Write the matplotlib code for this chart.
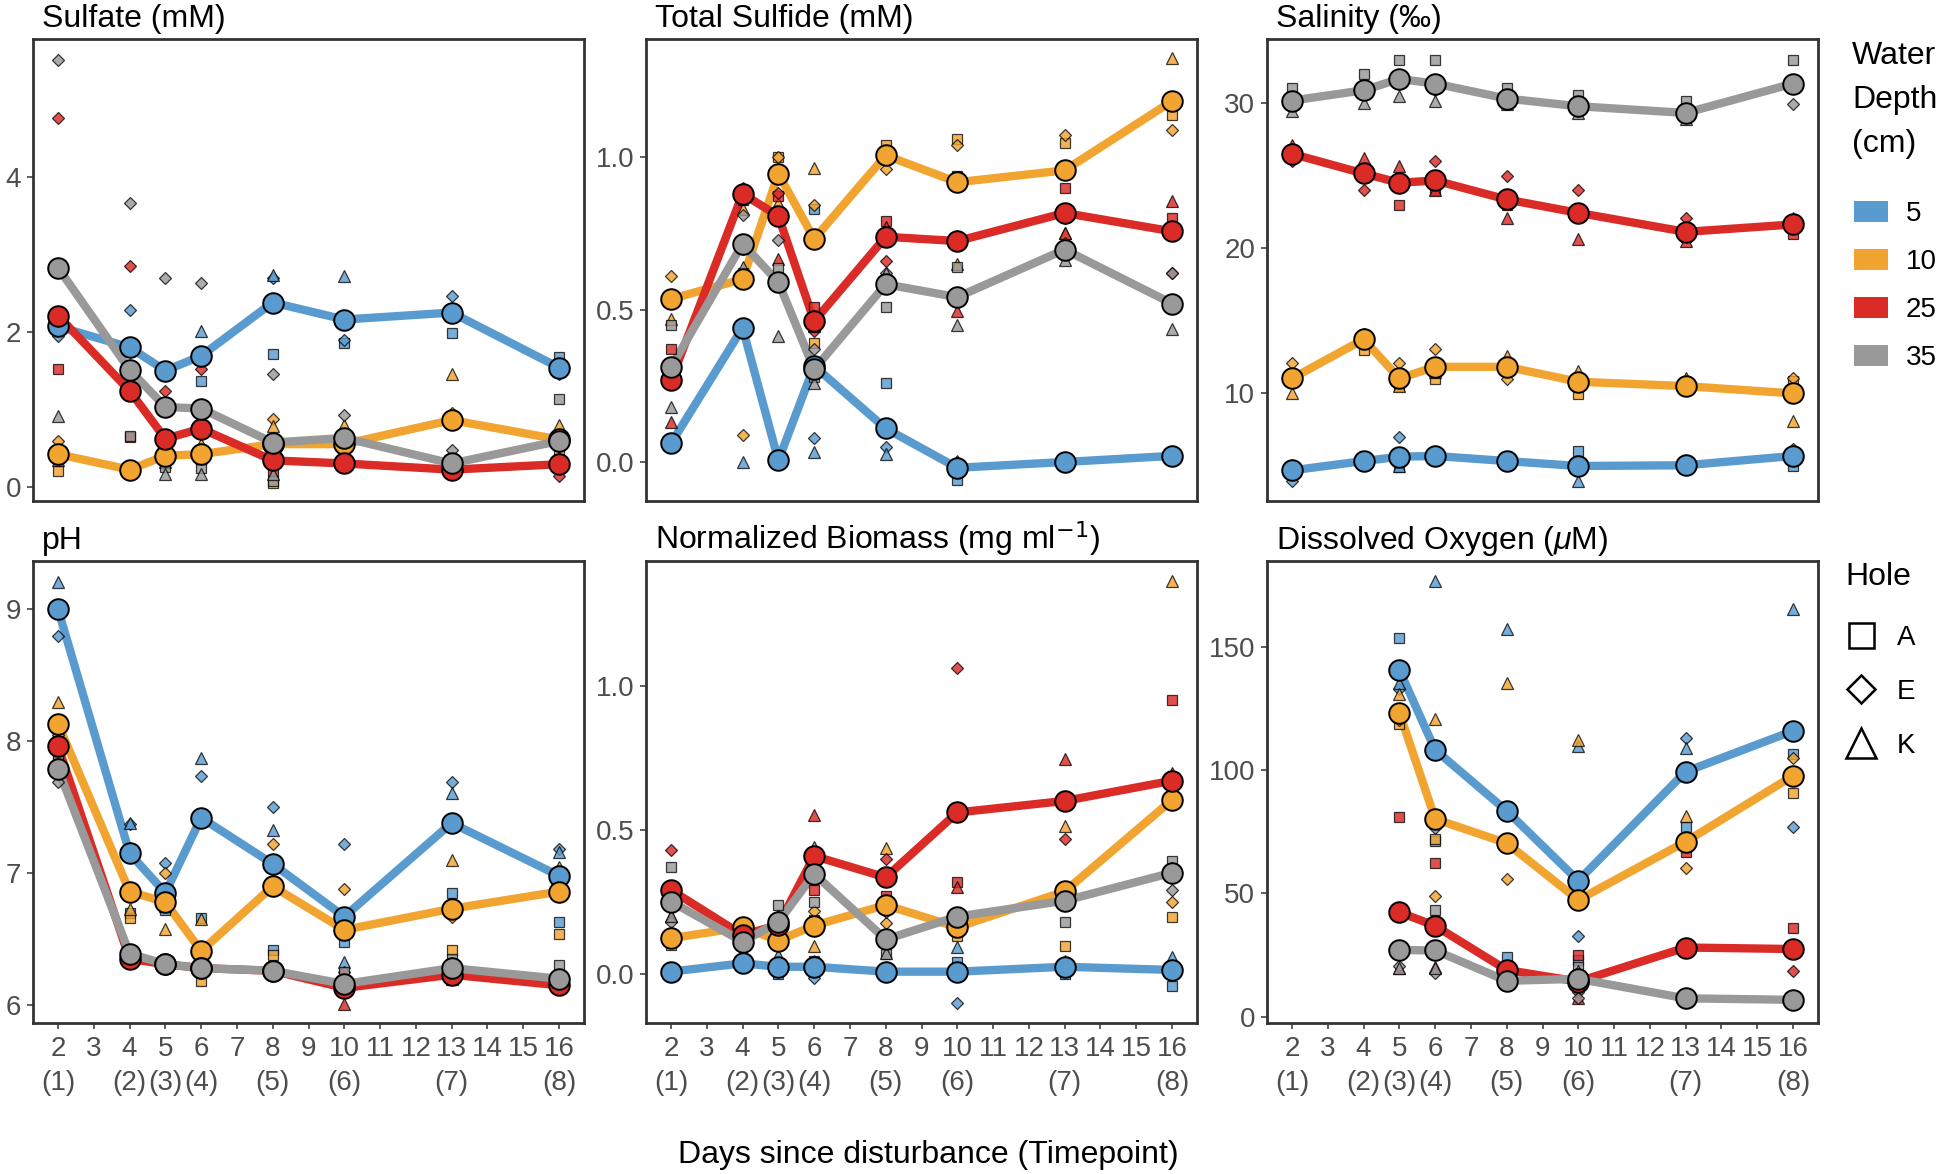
import numpy as np
import matplotlib
matplotlib.use("Agg")
import matplotlib.pyplot as plt
from matplotlib.colors import to_rgba
from matplotlib.patches import Rectangle

plt.rcParams['font.family'] = ['Liberation Sans', 'DejaVu Sans']
plt.rcParams['mathtext.fontset'] = 'custom'
plt.rcParams['mathtext.rm'] = 'Liberation Sans'
plt.rcParams['mathtext.it'] = 'Liberation Sans:italic'

nan = np.nan
days = [2, 4, 5, 6, 8, 10, 13, 16]
timepoints = {2: "(1)", 4: "(2)", 5: "(3)", 6: "(4)", 8: "(5)", 10: "(6)", 13: "(7)", 16: "(8)"}
depths = ["5", "10", "25", "35"]
holes = ["A", "E", "K"]
colors = ["#5A9BCF", "#F2A431", "#DA2B27", "#999999"]

# ---- Sulfate (mM); rows = depth 5, 10, 25, 35 ----
sulfate_mean = [[2.07, 1.80, 1.50, 1.69, 2.38, 2.16, 2.25, 1.54],
                [0.42, 0.22, 0.40, 0.42, 0.55, 0.55, 0.86, 0.61],
                [2.21, 1.24, 0.62, 0.75, 0.34, 0.30, 0.22, 0.29],
                [2.83, 1.51, 1.03, 1.01, 0.57, 0.63, 0.30, 0.59]]
sulfate_A = [[2.10, 1.55, 1.45, 1.36, 1.72, 1.86, 1.98, 1.67],
             [0.20, 0.21, 0.43, 0.36, 0.05, 0.40, 0.18, 0.48],
             [1.52, 0.64, 0.30, 0.35, 0.20, 0.25, 0.20, 0.35],
             [2.05, 0.65, 0.25, 0.24, 0.07, 0.50, 0.20, 1.13]]
sulfate_E = [[1.95, 2.28, 1.50, 1.70, 2.70, 1.90, 2.46, 1.45],
             [0.59, 0.25, 0.35, 0.36, 0.88, 0.45, 0.95, 0.55],
             [4.77, 2.85, 1.24, 1.52, 0.47, 0.30, 0.22, 0.14],
             [5.52, 3.67, 2.70, 2.63, 1.46, 0.93, 0.47, 0.35]]
sulfate_K = [[2.15, 1.57, 1.55, 2.01, 2.74, 2.72, 2.31, 1.50],
             [0.47, 0.20, 0.42, 0.55, 0.78, 0.80, 1.45, 0.80],
             [0.35, 0.23, 0.32, 0.38, 0.35, 0.35, 0.24, 0.38],
             [0.91, 0.21, 0.17, 0.16, 0.16, 0.46, 0.23, 0.29]]

# ---- Total Sulfide (mM) ----
sulfide_mean = [[0.061, 0.44, 0.005, 0.315, 0.11, -0.019, 0.0, 0.02],
                [0.535, 0.60, 0.946, 0.732, 1.006, 0.918, 0.957, 1.184],
                [0.268, 0.88, 0.807, 0.462, 0.739, 0.725, 0.817, 0.757],
                [0.311, 0.716, 0.59, 0.304, 0.583, 0.541, 0.697, 0.52]]
sulfide_A = [[0.05, 0.62, 0.00, 0.83, 0.26, -0.06, 0.0, 0.01],
             [0.525, 0.88, 1.0, 0.39, 1.04, 1.06, 1.047, 1.14],
             [0.37, 0.86, 0.873, 0.51, 0.79, 0.94, 0.90, 0.80],
             [0.45, 0.70, 0.637, 0.28, 0.51, 0.64, 0.71, 0.505]]
sulfide_E = [[0.07, 0.70, 0.01, 0.08, 0.05, 0.0, 0.0, 0.02],
             [0.61, 0.09, 1.0, 0.843, 0.96, 1.04, 1.074, 1.09],
             [0.30, 0.90, 0.883, 0.43, 0.66, 0.74, 0.80, 0.62],
             [0.30, 0.81, 0.73, 0.37, 0.62, 0.53, 0.72, 0.62]]
sulfide_K = [[0.07, 0.00, 0.005, 0.033, 0.025, 0.003, 0.0, 0.03],
             [0.47, 0.83, 0.85, 0.965, 1.02, 0.65, 0.75, 1.326],
             [0.13, 0.88, 0.665, 0.446, 0.77, 0.495, 0.752, 0.856],
             [0.18, 0.64, 0.413, 0.26, 0.62, 0.45, 0.662, 0.435]]

# ---- Salinity (permil) ----
salinity_mean = [[4.70, 5.34, 5.64, 5.69, 5.34, 5.0, 5.05, 5.69],
                 [11.03, 13.72, 11.03, 11.83, 11.83, 10.80, 10.50, 10.0],
                 [26.49, 25.14, 24.50, 24.66, 23.35, 22.43, 21.12, 21.63],
                 [30.16, 30.87, 31.65, 31.33, 30.30, 29.77, 29.31, 31.33]]
salinity_A = [[5.0, 5.4, 4.9, 5.8, 5.3, 6.03, 5.0, 5.0],
              [11.0, 12.98, 10.5, 10.96, 11.96, 9.93, 10.3, 10.87],
              [26.3, 25.2, 22.96, 24.0, 23.0, 22.66, 20.8, 20.94],
              [31.03, 32.0, 32.98, 32.98, 31.03, 30.57, 30.1, 32.98]]
salinity_E = [[3.97, 5.2, 7.02, 5.5, 5.4, 5.0, 5.1, 6.2],
              [12.06, 14.1, 12.06, 13.03, 10.96, 10.9, 10.2, 11.03],
              [26.0, 23.99, 24.85, 25.99, 25.0, 23.99, 22.09, 21.9],
              [30.0, 30.6, 31.5, 30.9, 30.0, 29.4, 29.0, 29.95]]
salinity_K = [[5.1, 5.4, 5.0, 5.8, 5.3, 3.97, 5.05, 5.9],
              [10.05, 14.08, 10.5, 11.5, 12.57, 11.54, 11.08, 8.1],
              [27.13, 26.2, 25.69, 24.0, 22.09, 20.64, 20.47, 22.05],
              [29.43, 30.0, 30.5, 30.1, 29.9, 29.3, 28.9, 31.1]]

# ---- pH ----
ph_mean = [[9.0, 7.15, 6.85, 7.42, 7.07, 6.67, 7.38, 6.98],
           [8.13, 6.86, 6.78, 6.41, 6.90, 6.57, 6.73, 6.86],
           [7.96, 6.35, 6.31, 6.28, 6.26, 6.13, 6.23, 6.15],
           [7.79, 6.39, 6.31, 6.28, 6.26, 6.16, 6.28, 6.20]]
ph_A = [[8.99, 6.70, 6.72, 6.66, 6.42, 6.48, 6.85, 6.63],
        [8.04, 6.66, 6.76, 6.18, 6.38, 6.13, 6.42, 6.54],
        [7.90, 6.33, 6.30, 6.27, 6.25, 6.13, 6.20, 6.15],
        [7.85, 6.40, 6.30, 6.27, 6.28, 6.25, 6.35, 6.30]]
ph_E = [[8.80, 7.37, 7.08, 7.74, 7.50, 7.22, 7.69, 7.18],
        [8.05, 7.19, 7.0, 6.40, 7.22, 6.88, 6.67, 6.99],
        [8.00, 6.36, 6.31, 6.28, 6.26, 6.25, 6.25, 6.14],
        [7.69, 6.38, 6.31, 6.28, 6.25, 6.10, 6.30, 6.15]]
ph_K = [[9.21, 7.38, 6.75, 7.87, 7.33, 6.33, 7.61, 7.16],
        [8.30, 6.73, 6.58, 6.65, 7.10, 6.70, 7.10, 7.05],
        [7.98, 6.36, 6.32, 6.29, 6.27, 6.01, 6.24, 6.16],
        [7.83, 6.39, 6.32, 6.29, 6.25, 6.13, 6.20, 6.15]]

# ---- Normalized Biomass (mg/ml) ----
biomass_mean = [[0.008, 0.037, 0.025, 0.025, 0.008, 0.008, 0.025, 0.014],
                [0.124, 0.162, 0.116, 0.168, 0.239, 0.162, 0.286, 0.603],
                [0.291, 0.135, 0.17, 0.409, 0.335, 0.56, 0.60, 0.67],
                [0.251, 0.112, 0.18, 0.347, 0.12, 0.199, 0.254, 0.351]]
biomass_A = [[0.0, 0.03, 0.0, 0.045, 0.0, 0.043, 0.0, -0.042],
             [0.10, 0.17, 0.12, 0.187, 0.11, 0.13, 0.098, 0.199],
             [0.24, 0.15, 0.16, 0.29, 0.27, 0.32, 0.588, 0.95],
             [0.37, 0.10, 0.24, 0.25, 0.07, 0.20, 0.18, 0.393]]
biomass_E = [[0.01, 0.04, 0.01, -0.015, 0.01, -0.10, 0.03, 0.024],
             [0.12, 0.16, 0.11, 0.22, 0.176, 0.17, 0.247, 0.251],
             [0.43, 0.13, 0.20, 0.387, 0.40, 1.06, 0.467, 0.36],
             [0.18, 0.12, 0.15, 0.35, 0.216, 0.19, 0.29, 0.291]]
biomass_K = [[0.015, 0.04, 0.066, 0.045, 0.015, 0.095, 0.045, 0.06],
             [0.15, 0.155, 0.12, 0.097, 0.436, 0.185, 0.513, 1.363],
             [0.20, 0.125, 0.15, 0.55, 0.335, 0.303, 0.745, 0.696],
             [0.20, 0.115, 0.15, 0.44, 0.074, 0.21, 0.29, 0.369]]

# ---- Dissolved Oxygen (uM) ----
oxygen_mean = [[nan, nan, 140.5, 108.1, 83.4, 55.1, 99.3, 115.8],
               [nan, nan, 123.2, 80.1, 70.3, 47.3, 70.9, 97.6],
               [nan, nan, 42.3, 36.8, 18.9, 14.2, 28.0, 27.4],
               [nan, nan, 27.0, 26.8, 14.5, 15.3, 7.4, 6.8]]
oxygen_A = [[nan, nan, 153.6, 71.3, 24.3, 23.1, 76.8, 106.4],
            [nan, nan, 118.6, 71.9, 20.1, 15.0, 71.2, 90.5],
            [nan, nan, 81.1, 62.4, 20.0, 25.0, 66.9, 35.8],
            [nan, nan, 41.0, 43.2, 13.0, 20.0, 7.0, 6.0]]
oxygen_E = [[nan, nan, 132.8, 76.4, 68.9, 32.7, 112.8, 77.0],
            [nan, nan, 120.2, 48.9, 55.7, 14.7, 60.1, 105.0],
            [nan, nan, 26.2, 27.7, 18.0, 10.0, 8.5, 18.6],
            [nan, nan, 20.4, 17.6, 15.0, 7.4, 8.0, 7.0]]
oxygen_K = [[nan, nan, 135.1, 176.6, 157.0, 109.5, 108.8, 165.1],
            [nan, nan, 130.8, 120.5, 135.1, 112.2, 81.4, 97.3],
            [nan, nan, 19.6, 20.3, 18.7, 7.6, 8.6, 27.8],
            [nan, nan, 19.6, 19.6, 15.5, 18.5, 7.2, 7.4]]

W, H = 1946, 1174
fig = plt.figure(figsize=(W / 100, H / 100), dpi=100)

col_x = [33, 646, 1267]
col_w = 551
row_top = [39, 561]
row_h = 462

hole_markers = [("s", 7.3), ("D", 5.8), ("^", 9.0)]
TEXT_GREY = "#4D4D4D"
SPINE = "#333333"


def make_ax(col, row):
    x0 = col_x[col] / W
    y0 = 1 - (row_top[row] + row_h) / H
    return fig.add_axes([x0, y0, col_w / W, row_h / H])


def panel(ax, title, means, A, E, K, ylim, yticks, yfmt, bottom):
    x = np.array(days, dtype=float)
    for i, c in enumerate(colors):
        ax.plot(x, means[i], color=c, lw=6, solid_joinstyle='round',
                solid_capstyle='butt', zorder=2)
    for i, c in enumerate(colors):
        for vals, (mk, ms) in zip([A[i], E[i], K[i]], hole_markers):
            ax.plot(x, vals, linestyle='none', marker=mk, ms=ms,
                    mfc=to_rgba(c, 0.82), mec=(0, 0, 0, 0.75), mew=0.9, zorder=3)
    for i, c in enumerate(colors):
        ax.plot(x, means[i], linestyle='none', marker='o', ms=14.8,
                mfc=c, mec='black', mew=1.4, zorder=4)
    ax.set_xlim(1.3, 16.7)
    ax.set_ylim(*ylim)
    ax.set_yticks(yticks)
    ax.set_yticklabels([yfmt.format(v) for v in yticks])
    xt = list(range(2, 17))
    ax.set_xticks(xt)
    if bottom:
        labs = [f"{d}\n{timepoints[d]}" if d in timepoints else f"{d}" for d in xt]
        ax.set_xticklabels(labs)
        for t in ax.get_xticklabels():
            t.set_linespacing(1.4)
        ax.tick_params(axis='x', length=4.5, width=1.1, color=SPINE,
                       labelsize=20, labelcolor=TEXT_GREY, pad=5)
    else:
        ax.tick_params(axis='x', length=0, labelbottom=False)
    ax.tick_params(axis='y', length=4.5, width=1.1, color=SPINE,
                   labelsize=20, labelcolor=TEXT_GREY, pad=4)
    for s in ax.spines.values():
        s.set_linewidth(2.0)
        s.set_color(SPINE)
    ax.text(0.017, 1.026, title, transform=ax.transAxes, fontsize=23,
            ha='left', va='baseline', color='black')


ax = make_ax(0, 0)
panel(ax, "Sulfate (mM)", sulfate_mean, sulfate_A, sulfate_E, sulfate_K,
      (-0.185, 5.785), [0, 2, 4], "{:.0f}", False)
ax = make_ax(1, 0)
panel(ax, "Total Sulfide (mM)", sulfide_mean, sulfide_A, sulfide_E, sulfide_K,
      (-0.128, 1.388), [0.0, 0.5, 1.0], "{:.1f}", False)
ax = make_ax(2, 0)
panel(ax, "Salinity (\u2030)", salinity_mean, salinity_A, salinity_E, salinity_K,
      (2.59, 34.4), [10, 20, 30], "{:.0f}", False)
ax = make_ax(0, 1)
panel(ax, "pH", ph_mean, ph_A, ph_E, ph_K,
      (5.864, 9.366), [6, 7, 8, 9], "{:.0f}", True)
ax = make_ax(1, 1)
panel(ax, r"Normalized Biomass (mg ml$^{\mathsf{-1}}$)", biomass_mean, biomass_A, biomass_E, biomass_K,
      (-0.170, 1.432), [0.0, 0.5, 1.0], "{:.1f}", True)
ax = make_ax(2, 1)
panel(ax, r"Dissolved Oxygen ($\mathit{\mu}$M)", oxygen_mean, oxygen_A, oxygen_E, oxygen_K,
      (-2.6, 184.7), [0, 50, 100, 150], "{:.0f}", True)

fig.text(0.477, 0.016, "Days since disturbance (Timepoint)", fontsize=23,
         ha='center', va='center', color='black')

# ---- legends (drawn in pixel space on an overlay) ----
ov = fig.add_axes([0, 0, 1, 1], facecolor='none')
ov.set_xlim(0, W)
ov.set_ylim(H, 0)
ov.axis('off')
for yb, line in zip([64, 108, 152], ["Water", "Depth", "(cm)"]):
    ov.text(1852, yb, line, fontsize=23, ha='left', va='baseline', color='black')
key_y = [211, 259, 307, 355]
for yk, c, lab in zip(key_y, colors, depths):
    ov.add_patch(Rectangle((1854, yk - 10.5), 34, 21, facecolor=c, edgecolor='none'))
    ov.text(1906, yk, lab, fontsize=20, ha='left', va='center_baseline', color='black')
ov.text(1845, 585, "Hole", fontsize=23, ha='left', va='baseline', color='black')
hole_y = [635, 689, 743]
for yk, (mk, ms), lab in zip(hole_y, [("s", 18), ("D", 14), ("^", 21)], holes):
    ov.plot([1861], [yk], marker=mk, ms=ms, mfc='white', mec='black', mew=1.8,
            linestyle='none')
    ov.text(1897, yk, lab, fontsize=20, ha='left', va='center_baseline', color='black')

fig.savefig("out.png", dpi=100)
